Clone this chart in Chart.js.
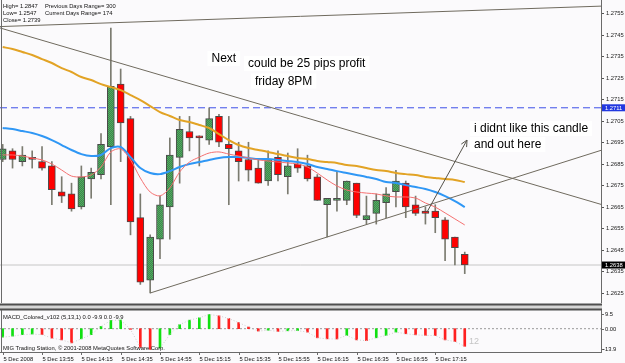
<!DOCTYPE html>
<html>
<head>
<meta charset="utf-8">
<script src="https://cdn.jsdelivr.net/npm/chart.js@4.4.1/dist/chart.umd.min.js"></script>
<style>
  html, body { margin: 0; padding: 0; background: #fbfafc; }
  #wrap { position: relative; width: 625px; height: 363px; overflow: hidden; }
  #main { position: absolute; left: 0; top: 0; }
  #macd { position: absolute; left: 0; top: 303px; }
</style>
</head>
<body>
<div id="wrap">
  <canvas id="main" width="625" height="303"></canvas>
  <canvas id="macd" width="625" height="60"></canvas>
</div>
<script>
// 5 minute EURUSD bars, 5 Dec 13:35 .. 17:30
const opens  = [1.2687,1.2691,1.2686,1.2688,1.2686,1.2684,1.2672,1.2671,1.2665,1.2678,1.2680,1.2693,1.2722,1.2706,1.2660,1.2631,1.2650,1.2665,1.2688,1.2700,1.2698,1.2696,1.2707,1.2694,1.2691,1.2687,1.2683,1.2677,1.2688,1.2679,1.2685,1.2684,1.2679,1.2666,1.2668,1.2668,1.2676,1.2659,1.2662,1.2667,1.2672,1.2676,1.2666,1.2663,1.2663,1.2659,1.2651,1.2643];
const highs  = [1.2694,1.2692,1.2693,1.2691,1.2693,1.2686,1.2679,1.2676,1.2684,1.2683,1.2699,1.2748,1.2729,1.2707,1.2671,1.2652,1.2670,1.2697,1.2707,1.2707,1.2698,1.2711,1.2708,1.2707,1.2695,1.2695,1.2687,1.2691,1.2691,1.2690,1.2692,1.2689,1.2680,1.2669,1.2681,1.2677,1.2676,1.2670,1.2671,1.2674,1.2682,1.2677,1.2670,1.2665,1.2666,1.2660,1.2651,1.2644];
const lows   = [1.2686,1.2683,1.2684,1.2683,1.2682,1.2666,1.2667,1.2663,1.2664,1.2669,1.2678,1.2666,1.2686,1.2652,1.2629,1.2625,1.2641,1.2650,1.2676,1.2691,1.2684,1.2694,1.2693,1.2666,1.2677,1.2677,1.2676,1.2675,1.2677,1.2671,1.2681,1.2677,1.2668,1.2651,1.2663,1.2666,1.2660,1.2657,1.2657,1.2660,1.2665,1.2660,1.2661,1.2657,1.2653,1.2640,1.2638,1.2634];
const closes = [1.2692,1.2687,1.2689,1.2687,1.2683,1.2673,1.2670,1.2664,1.2679,1.2681,1.2694,1.2721,1.2704,1.2658,1.2630,1.2651,1.2666,1.2689,1.2701,1.2697,1.2697,1.2706,1.2695,1.2692,1.2686,1.2682,1.2676,1.2687,1.2680,1.2684,1.2683,1.2678,1.2668,1.2669,1.2669,1.2677,1.2661,1.2661,1.2668,1.2671,1.2677,1.2665,1.2662,1.2662,1.2660,1.2650,1.2646,1.2638];

const maSlow = [1.27392,1.27383,1.27369,1.27355,1.27336,1.27318,1.27294,1.27276,1.27253,1.27239,1.27220,1.27206,1.27192,1.27169,1.27146,1.27118,1.27090,1.27072,1.27053,1.27044,1.27030,1.27016,1.26988,1.26960,1.26937,1.26923,1.26914,1.26905,1.26895,1.26886,1.26877,1.26872,1.26863,1.26858,1.26854,1.26844,1.26840,1.26830,1.26821,1.26816,1.26807,1.26802,1.26798,1.26789,1.26784,1.26779,1.26775,1.26765];
const maMid  = [1.27016,1.27011,1.27002,1.26993,1.26979,1.26960,1.26937,1.26914,1.26895,1.26886,1.26891,1.26923,1.26928,1.26881,1.26830,1.26807,1.26802,1.26816,1.26835,1.26849,1.26858,1.26868,1.26877,1.26881,1.26881,1.26877,1.26872,1.26872,1.26868,1.26863,1.26858,1.26849,1.26835,1.26826,1.26816,1.26807,1.26798,1.26789,1.26779,1.26765,1.26761,1.26751,1.26742,1.26733,1.26719,1.26700,1.26677,1.26649];
const maFast = [1.26891,1.26891,1.26886,1.26877,1.26868,1.26849,1.26821,1.26793,1.26789,1.26798,1.26835,1.26905,1.26919,1.26868,1.26784,1.26719,1.26701,1.26738,1.26812,1.26858,1.26881,1.26900,1.26905,1.26895,1.26886,1.26877,1.26868,1.26863,1.26858,1.26854,1.26849,1.26835,1.26807,1.26775,1.26747,1.26728,1.26719,1.26714,1.26710,1.26701,1.26696,1.26696,1.26691,1.26668,1.26649,1.26622,1.26594,1.26566];

const macdVals = [-5.7,-5.0,-4.0,-3.6,-4.0,-6.3,-7.5,-9.5,-6.8,-4.0,1.5,5.5,5.8,-0.5,-12.5,-13.9,-13.0,-3.9,2.7,5.7,7.3,9.5,8.6,6.8,4.1,1.1,-1.6,-1.1,-1.8,-1.4,-1.3,-2.3,-6.1,-6.8,-6.9,-4.5,-7.5,-8.0,-6.1,-4.5,-2.3,-3.4,-4.1,-4.5,-4.6,-7.5,-8.6,-11.8];

// drawn objects (bar index, price)
const trendTop  = [{x: -0.3, y: 1.27487}, {x: 60.9, y: 1.27582}];
const trendDown = [{x: -0.3, y: 1.27481}, {x: 60.9, y: 1.26661}];
const trendUp   = [{x: 15, y: 1.26250}, {x: 60.9, y: 1.26913}];
const arrowPts  = [{x: 43.16, y: 1.26626}, {x: 47.23, y: 1.26960}];
const levelLine = 1.2711;
const bidPrice  = 1.2638;

const yTickLabels = ['1.2755','1.2745','1.2735','1.2725','1.2715','1.2705','1.2695','1.2685','1.2675','1.2665','1.2655','1.2645','1.2635','1.2625'];
const timeLabels = ['5 Dec 2008','5 Dec 13:55','5 Dec 14:15','5 Dec 14:35','5 Dec 14:55','5 Dec 15:15','5 Dec 15:35','5 Dec 15:55','5 Dec 16:15','5 Dec 16:35','5 Dec 16:55','5 Dec 17:15'];
const timeTickBars = [0,4,8,12,16,20,24,28,32,36,40,44];
const macdLabels = [{v: 9.5, t: '9.5'}, {v: 0, t: '0.00'}, {v: -13.9, t: '-13.9'}];
const infoLines = [['High= 1.2847', 'Previous Days Range= 300'], ['Low= 1.2547', 'Current Days Range= 174'], ['Close= 1.2739', '']];

const xMin = -0.275, xMax = 60.86;
const smallFont = '5.8px "Liberation Sans"';
const idx = opens.map((_, i) => i);

function greenPattern(ctx) {
  const c = document.createElement('canvas');
  c.width = 2; c.height = 2;
  const g = c.getContext('2d');
  g.fillStyle = '#3a8c4a'; g.fillRect(0, 0, 2, 2);
  g.fillStyle = '#56a663'; g.fillRect(0, 0, 1, 1); g.fillRect(1, 1, 1, 1);
  return ctx.createPattern(c, 'repeat');
}

const mainCanvas = document.getElementById('main');
const gp = greenPattern(mainCanvas.getContext('2d'));
const bodyColors = idx.map(i => closes[i] >= opens[i] ? gp : '#ff0000');

function textBox(ctx, str, x, base, font) {
  ctx.font = font;
  const w = ctx.measureText(str).width;
  ctx.fillStyle = '#ffffff';
  ctx.fillRect(x - 4, base - 11, w + 8, 15);
}

const mainDecor = {
  id: 'mainDecor',
  afterDatasetsDraw(chart) {
    const {ctx, chartArea: a, scales: {x, y}} = chart;
    ctx.save();

    // arrow head
    const p0 = {x: x.getPixelForValue(arrowPts[0].x), y: y.getPixelForValue(arrowPts[0].y)};
    const p1 = {x: x.getPixelForValue(arrowPts[1].x), y: y.getPixelForValue(arrowPts[1].y)};
    const ang = Math.atan2(p1.y - p0.y, p1.x - p0.x);
    ctx.strokeStyle = '#55524a';
    ctx.lineWidth = 1;
    ctx.beginPath();
    ctx.moveTo(p1.x - 7 * Math.cos(ang - 0.45), p1.y - 7 * Math.sin(ang - 0.45));
    ctx.lineTo(p1.x, p1.y);
    ctx.lineTo(p1.x - 7 * Math.cos(ang + 0.45), p1.y - 7 * Math.sin(ang + 0.45));
    ctx.stroke();

    // text notes
    const big = '12px "Liberation Sans"';
    const notes = [
      ['Next', 211.5, 62],
      ['could be 25 pips profit', 248, 67],
      ['friday 8PM', 255, 84.5],
      ['i didnt like this candle', 474, 132],
      ['and out here', 474, 148]
    ];
    notes.forEach(n => textBox(ctx, n[0], n[1], n[2], big));
    ctx.fillStyle = '#000';
    ctx.font = big;
    ctx.textBaseline = 'alphabetic';
    notes.forEach(n => ctx.fillText(n[0], n[1], n[2]));

    // info block
    ctx.font = smallFont;
    ctx.fillStyle = '#111';
    infoLines.forEach((ln, i) => {
      ctx.fillText(ln[0], 3, 7.5 + i * 7.2);
      ctx.fillText(ln[1], 45, 7.5 + i * 7.2);
    });

    // frame
    ctx.strokeStyle = '#6a6a6a';
    ctx.beginPath();
    ctx.moveTo(1.5, a.top); ctx.lineTo(1.5, a.bottom);
    ctx.moveTo(a.right + 0.5, a.top); ctx.lineTo(a.right + 0.5, a.bottom);
    ctx.stroke();

    // price axis
    ctx.font = smallFont;
    ctx.textBaseline = 'middle';
    ctx.fillStyle = '#222';
    ctx.strokeStyle = '#555';
    yTickLabels.forEach(t => {
      const py = Math.round(y.getPixelForValue(parseFloat(t))) + 0.5;
      ctx.beginPath(); ctx.moveTo(a.right + 1, py); ctx.lineTo(a.right + 3, py); ctx.stroke();
      ctx.fillText(t, a.right + 5, py);
    });
    [[levelLine, '#2238e0'], [bidPrice, '#000000']].forEach(([v, bg]) => {
      const py = y.getPixelForValue(v);
      ctx.fillStyle = bg;
      ctx.fillRect(a.right + 1, py - 3.5, 23, 7);
      ctx.fillStyle = '#ffffff';
      ctx.fillText(v.toFixed(4), a.right + 4, py + 0.3);
    });
    ctx.restore();
  }
};

const line = (data, color, width, order, extra) => Object.assign({
  type: 'line', data, borderColor: color, borderWidth: width, pointRadius: 0,
  tension: 0, fill: false, order
}, extra || {});

new Chart(mainCanvas, {
  type: 'bar',
  data: {
    datasets: [
      line([{x: xMin, y: levelLine}, {x: xMax, y: levelLine}], '#3d4fe8', 1, 60, {borderDash: [7, 4]}),
      line([{x: xMin, y: bidPrice}, {x: xMax, y: bidPrice}], '#c6c6c6', 1, 61),
      {
        data: idx.map(i => ({x: i, y: [lows[i], highs[i]]})),
        backgroundColor: '#7b7b70', barThickness: 1, grouped: false, order: 50
      },
      {
        data: idx.map(i => ({x: i, y: [opens[i], closes[i]]})),
        backgroundColor: bodyColors, borderColor: '#4a4a4a', borderWidth: 1,
        borderSkipped: false, barThickness: 7, grouped: false, order: 40
      },
      line(idx.map(i => ({x: i, y: maSlow[i]})), '#e2a325', 2, 32, {tension: 0.3}),
      line(idx.map(i => ({x: i, y: maMid[i]})), '#2f97f5', 2, 31, {tension: 0.3}),
      line(idx.map(i => ({x: i, y: maFast[i]})), '#f47070', 1, 30, {tension: 0.3}),
      line(trendTop, '#6f6a5e', 1, 20),
      line(trendDown, '#6f6a5e', 1, 20),
      line(trendUp, '#6f6a5e', 1, 20),
      line(arrowPts, '#55524a', 1, 10)
    ]
  },
  options: {
    responsive: false,
    animation: false,
    devicePixelRatio: 1,
    events: [],
    layout: {padding: {left: 0, right: 24, top: 0, bottom: 0}},
    plugins: {legend: {display: false}, tooltip: {enabled: false}},
    scales: {
      x: {type: 'linear', min: xMin, max: xMax, offset: false, display: false},
      y: {min: 1.262037, max: 1.276104, display: false}
    }
  },
  plugins: [mainDecor]
});

const macdCanvas = document.getElementById('macd');
const macdColors = macdVals.map((v, i) => (i === 0 || v > macdVals[i - 1]) ? '#10e010' : '#ff2020');

const macdDecor = {
  id: 'macdDecor',
  afterDatasetsDraw(chart) {
    const {ctx, chartArea: a, scales: {x, y}} = chart;
    ctx.save();
    // separator between windows
    ctx.fillStyle = '#d6d6d6';
    ctx.fillRect(0, 2, a.right + 1, 4);
    ctx.fillStyle = '#4f4f4f';
    ctx.fillRect(0, 0.5, a.right + 1, 2);
    ctx.fillRect(0, 5.5, a.right + 1, 2);

    ctx.strokeStyle = '#6a6a6a';
    ctx.lineWidth = 1;
    ctx.beginPath();
    ctx.moveTo(1.5, a.top); ctx.lineTo(1.5, a.bottom);
    ctx.moveTo(a.right + 0.5, a.top); ctx.lineTo(a.right + 0.5, a.bottom + 1);
    ctx.moveTo(0, a.bottom + 0.5); ctx.lineTo(a.right + 1, a.bottom + 0.5);
    ctx.stroke();

    ctx.font = smallFont;
    ctx.fillStyle = '#111';
    ctx.textBaseline = 'middle';
    macdLabels.forEach(l => {
      const py = Math.round(y.getPixelForValue(l.v)) + 0.5;
      ctx.beginPath(); ctx.moveTo(a.right + 1, py); ctx.lineTo(a.right + 3, py); ctx.stroke();
      ctx.fillText(l.t, a.right + (l.v < 0 ? 2 : 4), py);
    });

    ctx.textBaseline = 'alphabetic';
    ctx.fillText('MACD_Colored_v102 (5,13,1) 0.0 -9.9 0.0 -9.9', 3, 15.8);
    ctx.fillText('MIG Trading Station, \u00a9 2001-2008 MetaQuotes Software Corp.', 3, 46.8);

    // time axis
    timeTickBars.forEach((b, i) => {
      const px = Math.round(x.getPixelForValue(b)) + 0.5;
      ctx.beginPath(); ctx.moveTo(px, a.bottom); ctx.lineTo(px, a.bottom + 3); ctx.stroke();
      ctx.fillText(timeLabels[i], px, 57.5);
    });

    ctx.font = '9px "Liberation Sans"';
    ctx.fillStyle = '#c4c4c4';
    ctx.fillText('12', 469, 41);
    ctx.restore();
  }
};

new Chart(macdCanvas, {
  type: 'bar',
  data: {
    datasets: [
      line([{x: xMin, y: 0}, {x: xMax, y: 0}], '#9a9a9a', 1, 30, {borderDash: [2, 2]}),
      {
        data: macdVals.map((v, i) => ({x: i, y: v})),
        backgroundColor: macdColors, barThickness: 2, grouped: false, order: 20
      },
      line(macdVals.map((v, i) => ({x: i, y: v})), '#cdcdcd', 1, 10, {borderDash: [1, 2]})
    ]
  },
  options: {
    responsive: false,
    animation: false,
    devicePixelRatio: 1,
    events: [],
    layout: {padding: {left: 0, right: 24, top: 7, bottom: 11}},
    plugins: {legend: {display: false}, tooltip: {enabled: false}},
    scales: {
      x: {type: 'linear', min: xMin, max: xMax, offset: false, display: false},
      y: {min: -15.6, max: 12.5, display: false}
    }
  },
  plugins: [macdDecor]
});
</script>
</body>
</html>
